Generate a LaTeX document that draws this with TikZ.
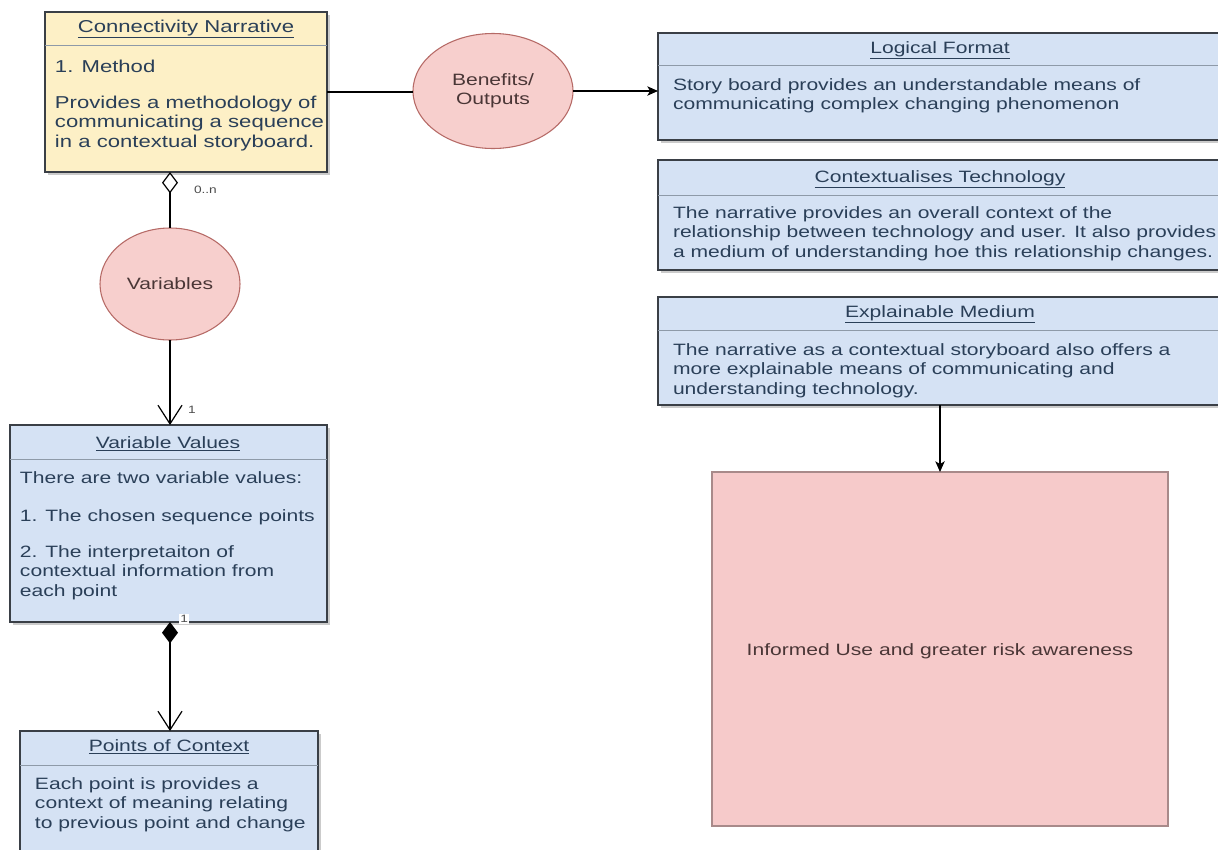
\documentclass[tikz,border=0pt]{standalone}
\usepackage{fontspec}
\setmainfont{Liberation Sans}
\newfontfamily\bodyfamily{Liberation Sans}[FakeStretch=1.285]
\newcommand\bodyfont{\bodyfamily\fontsize{12.3pt}{14.6pt}\selectfont}
\newcommand\cnfont{\bodyfamily\fontsize{12.9pt}{14.6pt}\selectfont}
\newcommand\mysmallfont{\bodyfamily\fontsize{8pt}{9pt}\selectfont}
\usetikzlibrary{shapes.geometric,arrows.meta,shadows}
\newlength{\pxu}\setlength{\pxu}{0.75pt}
\definecolor{bluefill}{HTML}{D5E2F4}
\definecolor{yellowfill}{HTML}{FDF0C6}
\definecolor{redfill}{HTML}{F7CFCD}
\definecolor{redfilltwo}{HTML}{F6CACA}
\definecolor{redline}{HTML}{B66A66}
\definecolor{redbox}{HTML}{A88A8A}
\definecolor{boxline}{HTML}{3A3F46}
\definecolor{sepcol}{HTML}{8E9AA8}
\definecolor{txtblue}{HTML}{2A3F58}
\definecolor{txtred}{HTML}{4A3636}
\begin{document}
\begin{tikzpicture}[x=0.75pt, y=-0.75pt,
  every node/.style={inner sep=0pt, outer sep=0pt},
  umlbox/.style={draw=boxline, line width=0.9pt, rectangle, anchor=north west,
    drop shadow={shadow xshift=2.2pt, shadow yshift=-2.5pt, fill=black!45, opacity=0.45}},
  bluebox/.style={umlbox, fill=bluefill},
  yellowbox/.style={umlbox, fill=yellowfill},
  sepline/.style={draw=sepcol, line width=0.6pt},
  title/.style={anchor=base, font=\bodyfont, text=txtblue},
  body/.style={anchor=base west, align=left, font=\bodyfont, text=txtblue},
  oval/.style={ellipse, draw=redline, line width=0.8pt, fill=redfill, font=\bodyfont, text=txtred, align=center},
  conn/.style={draw=black, line width=0.9pt},
  mult/.style={font=\mysmallfont, text=black!70},
]
\clip (0,0) rectangle (1218,850);
\fill[white] (0,0) rectangle (1218,850);

% Connectivity Narrative
\node[yellowbox, minimum width=282\pxu, minimum height=160\pxu] (CN) at (45,12) {};
\draw[sepline] ([yshift=-33\pxu]CN.north west) -- ([yshift=-33\pxu]CN.north east);
\node[title, font=\cnfont] (CNt) at (186,32) {\underline{Connectivity Narrative}};
\node[body, font=\cnfont] (CNb1) at (55,72) {1. Method};
\node[body, font=\cnfont] (CNb2) at (55,147) {Provides a methodology of\\communicating a sequence\\in a contextual storyboard.};

% Variable Values
\node[bluebox, minimum width=317\pxu, minimum height=197\pxu] (VV) at (10,425) {};
\draw[sepline] ([yshift=-34\pxu]VV.north west) -- ([yshift=-34\pxu]VV.north east);
\node[title] (VVt) at (168,448) {\underline{Variable Values}};
\node[body] (VVb1) at (20,483) {There are two variable values:};
\node[body] (VVb2) at (20,521) {1. The chosen sequence points};
\node[body] (VVb3) at (20,596) {2. The interpretaiton of\\contextual information from\\each point};

% Points of Context
\node[bluebox, minimum width=298\pxu, minimum height=140\pxu] (PoC) at (20,731) {};
\draw[sepline] ([yshift=-34\pxu]PoC.north west) -- ([yshift=-34\pxu]PoC.north east);
\node[title] (PoCt) at (169,751) {\underline{Points of Context}};
\node[body] (PoCb) at (35,828) {Each point is provides a\\context of meaning relating\\to previous point and change};

% Logical Format
\node[bluebox, minimum width=590\pxu, minimum height=107\pxu] (LF) at (658,33) {};
\draw[sepline] ([yshift=-32\pxu]LF.north west) -- ([yshift=-32\pxu]LF.north east);
\node[title] (LFt) at (940,53) {\underline{Logical Format}};
\node[body] (LFb) at (673,109.5) {Story board provides an understandable means of\\communicating complex changing phenomenon};

% Contextualises Technology
\node[bluebox, minimum width=590\pxu, minimum height=110\pxu] (CT) at (658,160) {};
\draw[sepline] ([yshift=-35\pxu]CT.north west) -- ([yshift=-35\pxu]CT.north east);
\node[title] (CTt) at (940,182) {\underline{Contextualises Technology}};
\node[body] (CTb) at (673,257) {The narrative provides an overall context of the\\relationship between technology and user. It also provides\\a medium of understanding hoe this relationship changes.};

% Explainable Medium
\node[bluebox, minimum width=590\pxu, minimum height=108\pxu] (EM) at (658,297) {};
\draw[sepline] ([yshift=-33\pxu]EM.north west) -- ([yshift=-33\pxu]EM.north east);
\node[title] (EMt) at (940,317) {\underline{Explainable Medium}};
\node[body] (EMb) at (673,394) {The narrative as a contextual storyboard also offers a\\more explainable means of communicating and\\understanding technology.};

% Ellipses
\node[oval, minimum width=160\pxu, minimum height=115\pxu] (Ben) at (493,91) {Benefits/\\Outputs};
\node[oval, minimum width=140\pxu, minimum height=112\pxu] (Vars) at (170,284) {Variables};

% Result box
\node[draw=redbox, fill=redfilltwo, line width=0.9pt, minimum width=456\pxu, minimum height=354\pxu, anchor=north west] (Red) at (712,472) {};
\node[font=\bodyfont, text=txtred, anchor=base] (RedT) at (940,655) {Informed Use and greater risk awareness};

% Connectors
\draw[conn] (CN.east) -- (CN.east -| Ben.west);
\draw[conn, -{Stealth[length=8pt, width=7pt, inset=2pt]}] (Ben.east) -- (Ben.east -| LF.west);
\draw[conn, {Diamond[open, length=16pt, width=12pt]}-] (Vars.north |- CN.south) -- (Vars.north);
\draw[conn, -{Straight Barb[length=14pt, width=18pt]}] (Vars.south) -- (Vars.south |- VV.north);
\draw[conn, {Diamond[length=16pt, width=12pt]}-{Straight Barb[length=14pt, width=18pt]}] (VV.south -| Vars.south) -- (PoC.north -| Vars.south);
\draw[conn, -{Stealth[length=8pt, width=7pt, inset=2pt]}] (EM.south -| Red.north) -- (Red.north);

% Multiplicities
\node[mult, anchor=west] (m1) at (194,190) {0..n};
\node[mult, anchor=west] (m2) at (188,410) {1};
\node[mult, anchor=west, fill=white, inner sep=1pt] (m3) at (179,619) {1};
\end{tikzpicture}
\end{document}
